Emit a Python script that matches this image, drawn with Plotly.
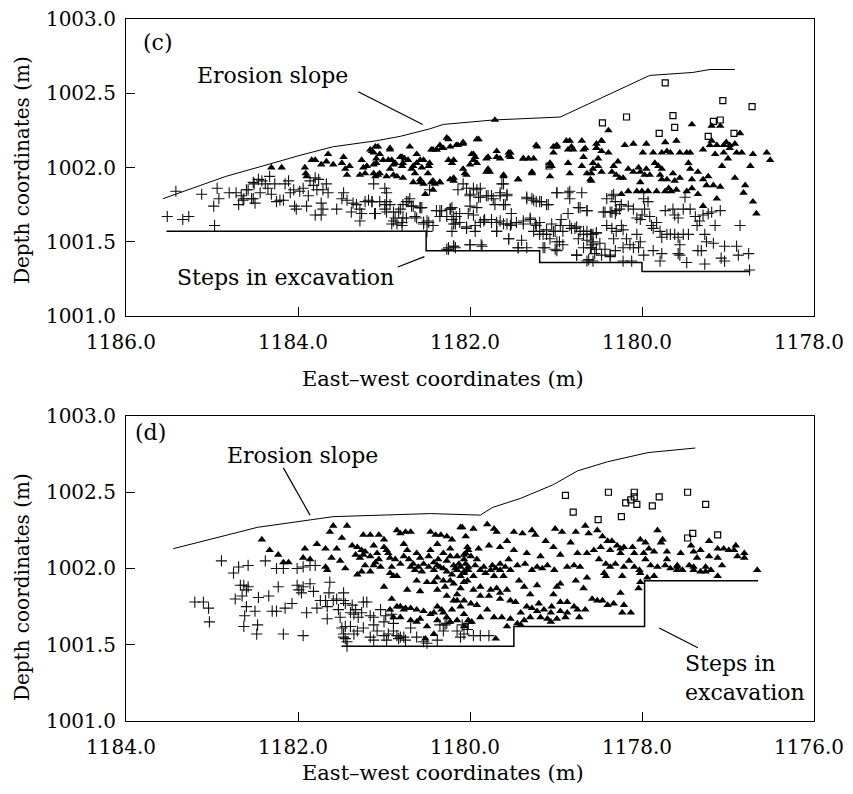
import plotly.graph_objects as go

# ---------------- Panel (c) data ----------------
c_slope_x = [1185.57, 1184.84, 1184.29, 1183.99, 1183.59, 1183.09, 1182.81, 1182.47, 1182.31, 1181.73, 1180.95, 1179.91, 1179.41, 1179.21, 1178.92]
c_slope_y = [1001.79, 1001.94, 1002.03, 1002.08, 1002.14, 1002.18, 1002.21, 1002.26, 1002.29, 1002.32, 1002.34, 1002.62, 1002.64, 1002.66, 1002.66]
c_step_x = [1185.53, 1182.51, 1181.19, 1180.00, 1178.74]
c_step_y = [1001.57, 1001.44, 1001.36, 1001.30, 1001.30]

c_cross = [
    (1185.42,1001.84),(1185.52,1001.67),(1185.34,1001.65),(1185.27,1001.67),(1185.12,1001.82),(1184.94,1001.86),
    (1184.92,1001.79),(1184.98,1001.74),(1184.97,1001.61),(1184.80,1001.83),(1184.72,1001.83),(1184.66,1001.81),
    (1184.69,1001.75),(1184.63,1001.79),(1184.58,1001.85),(1184.52,1001.79),(1184.51,1001.89),
    (1184.64,1001.78),(1184.60,1001.85),(1184.54,1001.79),(1184.52,1001.90),(1184.50,1001.76),(1184.46,1001.92),
    (1184.44,1001.83),(1184.42,1001.91),(1184.38,1001.89),(1184.35,1001.86),(1184.33,1001.94),(1184.31,1001.82),
    (1184.27,1001.89),(1184.25,1001.77),(1184.21,1001.78),(1184.17,1001.78),(1184.15,1001.89),(1184.11,1001.91),
    (1184.09,1001.83),(1184.05,1001.85),(1184.04,1001.74),(1184.02,1001.72),(1183.98,1001.84),(1183.94,1001.86),
    (1183.90,1001.74),(1183.88,1001.81),(1183.86,1001.91),(1183.82,1001.88),(1183.80,1001.93),(1183.78,1001.85),
    (1183.76,1001.92),(1183.73,1001.76),(1183.71,1001.85),(1183.80,1001.68),(1183.73,1001.68),(1183.67,1001.89),
    (1183.65,1001.83),(1183.71,1001.72),(1183.55,1001.72),(1183.47,1001.83),(1183.43,1001.78),(1183.49,1001.79),
    (1183.38,1001.70),(1183.36,1001.76),(1183.32,1001.75),(1183.28,1001.72),(1183.28,1001.64),(1183.26,1001.69),
    (1183.22,1001.77),(1183.18,1001.78),(1183.14,1001.77),(1183.10,1001.69),(1183.05,1001.77),(1182.99,1001.75),
    (1182.97,1001.70),(1182.97,1001.83),(1182.93,1001.75),(1182.89,1001.70),(1182.87,1001.66),(1182.83,1001.70),
    (1182.78,1001.75),(1182.72,1001.77),(1182.79,1001.63),(1182.91,1001.62),(1182.74,1001.66),(1182.66,1001.74),
    (1182.64,1001.67),(1182.58,1001.73),(1182.54,1001.63),(1182.50,1001.64),(1182.47,1001.85),(1182.35,1001.71),
    (1182.27,1001.67),(1182.23,1001.72),(1182.19,1001.62),(1182.16,1001.67),(1182.43,1001.61),(1182.27,1001.45),
    (1182.19,1001.47),(1183.12,1001.89),(1183.14,1001.77),(1183.11,1001.69),(1182.99,1001.86),(1182.97,1001.77),
    (1182.99,1001.72),(1182.89,1001.64),(1182.85,1001.62),(1182.79,1001.61),(1182.78,1001.66),(1182.81,1001.72),
    (1182.74,1001.77),(1182.70,1001.79),(1182.68,1001.74),(1182.58,1001.73),(1182.62,1001.66),(1182.54,1001.62),
    (1182.39,1001.71),(1182.35,1001.67),(1182.23,1001.72),(1182.21,1001.65),(1182.17,1001.62),(1182.12,1001.69),
    (1182.14,1001.85),(1182.04,1001.59),(1182.02,1001.69),(1182.00,1001.82),(1182.04,1001.86),(1181.92,1001.85),
    (1181.88,1001.80),(1181.92,1001.73),(1181.94,1001.61),(1181.79,1001.81),(1181.73,1001.79),(1181.65,1001.83),
    (1181.61,1001.89),(1181.57,1001.81),(1181.59,1001.75),(1181.83,1001.65),(1181.75,1001.65),(1181.69,1001.57),
    (1181.61,1001.62),(1181.55,1001.52),(1181.53,1001.61),(1181.44,1001.46),(1181.34,1001.79),(1181.26,1001.78),
    (1181.19,1001.77),(1181.11,1001.75),(1181.38,1001.62),(1181.30,1001.65),(1181.23,1001.61),(1181.19,1001.57),
    (1181.15,1001.55),(1181.11,1001.58),(1181.07,1001.52),(1181.05,1001.62),(1181.01,1001.57),(1180.99,1001.83),
    (1180.94,1001.65),(1180.96,1001.50),(1180.92,1001.57),(1181.15,1001.46),(1180.99,1001.44),(1182.25,1001.46),
    (1182.19,1001.47),(1182.00,1001.48),(1181.87,1001.48),(1180.84,1001.84),(1180.84,1001.79),(1180.82,1001.59),
    (1180.76,1001.60),(1180.68,1001.57),(1180.60,1001.55),(1180.53,1001.56),(1180.74,1001.52),(1180.64,1001.51),
    (1180.57,1001.48),(1180.72,1001.73),(1180.64,1001.71),(1180.76,1001.41),(1180.62,1001.38),
    (1180.41,1001.79),(1180.35,1001.81),(1180.31,1001.77),(1180.45,1001.70),(1180.37,1001.70),(1180.31,1001.69),
    (1180.26,1001.72),(1180.41,1001.61),(1180.35,1001.59),(1180.30,1001.57),(1180.24,1001.61),(1180.33,1001.52),
    (1180.57,1001.55),(1180.53,1001.56),(1180.49,1001.49),(1180.59,1001.46),(1180.55,1001.42),(1180.43,1001.45),
    (1180.37,1001.41),(1180.31,1001.44),(1180.22,1001.58),(1180.18,1001.52),(1180.22,1001.46),(1180.14,1001.48),
    (1180.10,1001.46),(1180.16,1001.74),(1180.10,1001.72),(1180.06,1001.66),(1180.02,1001.65),(1180.00,1001.68),
    (1179.97,1001.72),(1179.98,1001.79),(1179.93,1001.77),(1179.91,1001.67),(1179.89,1001.61),(1179.87,1001.59),
    (1180.06,1001.55),(1180.02,1001.50),(1180.04,1001.46),(1179.98,1001.41),(1180.22,1001.37),(1180.12,1001.37),
    (1179.83,1001.63),(1179.79,1001.57),(1179.77,1001.53),(1179.71,1001.55),(1179.67,1001.55),(1179.87,1001.44),
    (1179.77,1001.42),(1179.79,1001.37),(1179.73,1001.71),(1179.64,1001.72),(1179.62,1001.68),(1179.58,1001.66),
    (1179.52,1001.72),(1179.44,1001.72),(1179.50,1001.80),(1179.62,1001.55),(1179.58,1001.53),(1179.52,1001.55),
    (1179.46,1001.55),(1179.56,1001.48),(1179.58,1001.42),(1179.56,1001.41),(1179.48,1001.36),(1179.38,1001.67),
    (1179.36,1001.61),(1179.33,1001.64),(1179.29,1001.68),(1179.23,1001.69),(1179.27,1001.55),(1179.25,1001.50),
    (1179.31,1001.44),(1179.27,1001.35),(1179.35,1001.44),(1179.19,1001.70),(1179.15,1001.61),(1179.09,1001.71),
    (1179.17,1001.49),(1179.04,1001.47),(1179.08,1001.39),(1178.90,1001.47),(1178.88,1001.41),(1178.76,1001.42),
    (1179.04,1001.37),(1178.86,1001.61),(1178.75,1001.31),
    (1182.56,1001.73),(1182.54,1001.63),(1182.48,1001.63),(1182.50,1001.57),(1182.33,1001.71),(1182.21,1001.73),
    (1182.19,1001.67),(1182.12,1001.63),(1182.21,1001.57),(1181.96,1001.68),(1182.00,1001.74),(1181.88,1001.86),
    (1181.96,1001.86),(1181.63,1001.89),(1182.08,1001.89),(1182.00,1001.81),(1181.90,1001.80),(1181.81,1001.81),
    (1181.75,1001.81),(1181.65,1001.81),(1181.57,1001.82),(1181.71,1001.75),(1181.61,1001.75),(1181.88,1001.63),
    (1181.84,1001.64),(1181.75,1001.63),(1181.69,1001.63),(1181.65,1001.64),(1181.57,1001.62),(1181.52,1001.69),
    (1181.52,1001.62),(1182.04,1001.60),(1181.94,1001.57),(1181.69,1001.57),(1181.55,1001.52),(1181.40,1001.51),
    (1181.44,1001.46),(1181.34,1001.46),(1182.00,1001.48),(1181.86,1001.47),(1182.25,1001.45),(1182.17,1001.46),
    (1181.46,1001.63),(1181.38,1001.64),(1181.30,1001.66),(1181.24,1001.62),(1181.19,1001.63),(1181.34,1001.80),
    (1181.28,1001.79),(1181.23,1001.77),(1181.17,1001.77),(1181.09,1001.75),(1180.99,1001.83),(1180.86,1001.83),
    (1180.70,1001.83),(1180.86,1001.69),(1180.74,1001.73),(1180.64,1001.71),(1181.26,1001.57),(1181.19,1001.55),
    (1181.11,1001.55),(1181.03,1001.57),(1180.99,1001.50),(1180.95,1001.61),(1180.92,1001.48),(1180.76,1001.41),
    (1181.13,1001.46),(1181.01,1001.45),(1180.84,1001.61),(1180.78,1001.59),(1180.72,1001.57),(1180.68,1001.55),
    (1180.64,1001.57),(1180.59,1001.55),(1180.57,1001.50),(1180.68,1001.46),(1180.60,1001.46),(1180.53,1001.45),
    (1180.64,1001.37),(1180.57,1001.37),(1180.47,1001.41),(1180.37,1001.40),(1180.43,1001.70),(1180.35,1001.70),
    (1180.30,1001.71),(1180.24,1001.75),(1180.33,1001.82),
]

c_tri = [
    (1184.31,1002.00),(1184.19,1002.00),(1183.92,1002.00),(1183.91,1001.96),(1183.90,1001.94),(1183.84,1002.05),
    (1183.80,1002.05),(1183.73,1002.02),(1183.65,1002.09),(1183.67,1002.04),(1183.59,1002.02),(1183.49,1002.03),
    (1183.47,1002.07),(1183.45,1001.99),(1183.43,1001.95),(1183.40,1002.01),(1183.26,1002.05),(1183.24,1002.00),
    (1183.22,1001.96),(1183.28,1001.95),(1183.20,1002.01),(1183.16,1002.12),(1183.12,1002.10),(1183.07,1002.14),
    (1183.05,1002.09),(1183.09,1002.03),(1183.12,1001.96),(1183.10,1001.94),(1183.05,1001.96),(1182.93,1002.12),
    (1182.91,1002.05),(1182.89,1002.02),(1182.81,1002.07),(1182.76,1002.06),(1182.79,1002.01),(1182.78,1001.93),
    (1182.85,1001.94),(1182.97,1001.94),(1182.70,1002.14),(1182.62,1002.09),(1182.58,1002.05),(1182.56,1002.00),
    (1182.66,1002.01),(1182.66,1001.90),(1182.58,1001.90),(1182.47,1002.03),(1182.49,1001.96),(1182.43,1002.12),
    (1182.39,1002.12),(1182.27,1002.20),(1182.23,1002.14),(1182.33,1002.13),(1182.25,1002.05),(1182.21,1002.03),
    (1182.35,1001.90),(1182.43,1001.91),(1182.19,1001.93),(1182.14,1002.15),
    (1183.14,1002.11),(1183.10,1002.14),(1183.09,1002.06),(1183.12,1002.02),(1183.07,1001.95),(1183.01,1002.05),
    (1182.93,1002.13),(1182.95,1002.05),(1182.93,1001.99),(1182.89,1001.95),(1182.87,1002.03),(1182.79,1002.07),
    (1182.78,1002.03),(1182.72,1002.05),(1182.68,1001.99),(1182.62,1002.03),(1182.64,1001.96),(1182.54,1002.05),
    (1182.58,1001.92),(1182.54,1001.89),(1182.48,1002.01),(1182.45,1001.90),(1182.41,1001.89),(1182.45,1002.12),
    (1182.35,1002.15),(1182.08,1002.17),(1182.23,1001.92),(1182.19,1001.91),(1181.98,1002.09),(1181.94,1002.07),
    (1181.92,1002.19),(1181.92,1002.03),(1182.00,1002.02),(1182.06,1001.96),(1182.04,1001.95),(1181.81,1001.97),
    (1181.77,1001.97),(1181.79,1002.07),(1181.69,1002.11),(1181.65,1002.06),(1181.55,1002.10),(1181.53,1002.07),
    (1181.61,1001.95),(1181.44,1001.92),(1181.38,1002.06),(1181.32,1002.06),(1181.26,1002.06),(1181.28,1001.96),
    (1181.23,1002.15),(1181.05,1002.01),(1181.07,1002.03),(1181.03,1002.10),(1181.01,1002.14),(1180.99,1002.15),
    (1180.84,1002.18),(1180.82,1002.14),(1180.86,1002.03),(1180.84,1001.96),(1180.68,1002.07),(1180.70,1002.01),
    (1180.66,1002.13),(1180.64,1001.96),(1180.60,1001.92),(1180.57,1001.99),(1180.53,1002.16),(1180.51,1002.06),
    (1180.39,1002.25),(1180.47,1002.18),(1180.53,1002.13),(1180.47,1002.11),(1180.39,1002.10),(1180.57,1002.03),
    (1180.51,1002.01),(1180.59,1001.96),(1180.47,1001.97),(1180.33,1002.01),(1180.28,1002.04),(1180.35,1001.97),
    (1180.30,1001.95),(1180.26,1001.93),(1180.22,1001.93),(1180.59,1001.91),(1180.20,1002.15),(1180.10,1002.16),
    (1179.95,1002.16),(1179.99,1002.10),(1179.87,1002.10),(1179.77,1002.10),(1179.71,1002.11),(1179.73,1002.17),
    (1179.60,1002.18),(1179.67,1002.10),(1179.56,1002.10),(1179.48,1002.10),(1179.44,1002.10),(1180.16,1001.99),
    (1180.10,1001.97),(1180.04,1002.00),(1180.02,1001.97),(1179.95,1001.99),(1179.85,1002.03),(1179.81,1002.01),
    (1179.77,1001.99),(1179.91,1001.95),(1179.97,1001.95),(1179.79,1001.95),(1179.77,1001.92),(1179.71,1001.92),
    (1179.64,1001.96),(1179.62,1001.91),(1179.56,1001.93),(1179.46,1002.03),(1179.44,1001.99),(1179.42,1001.92),
    (1179.35,1001.97),(1179.29,1001.92),(1179.23,1001.94),(1179.25,1001.88),(1179.17,1001.88),(1179.09,1001.87),
    (1180.02,1001.90),(1180.00,1001.84),(1180.06,1001.84),(1180.16,1001.84),(1180.24,1001.82),(1179.93,1001.84),
    (1179.83,1001.84),(1179.73,1001.84),(1179.69,1001.86),(1179.66,1001.84),(1179.60,1001.85),(1179.48,1001.84),
    (1179.42,1001.86),(1179.35,1001.82),(1179.13,1001.79),(1179.29,1001.74),(1179.42,1002.29),(1179.19,1002.28),
    (1179.09,1002.28),(1179.13,1002.15),(1179.15,1002.09),(1179.05,1002.15),(1179.02,1002.17),(1178.98,1002.15),
    (1178.92,1002.16),(1178.90,1002.10),(1178.84,1002.10),(1178.98,1002.13),(1179.05,1002.10),(1179.00,1002.06),
    (1179.07,1002.01),(1178.92,1001.93),(1178.80,1001.88),(1178.82,1001.83),(1178.71,1001.77),(1178.67,1001.69),
    (1178.71,1002.09),(1178.55,1002.10),(1178.51,1002.05),(1178.74,1002.01),(1178.86,1002.23),(1179.21,1002.15),
    (1179.29,1002.12),(1179.19,1002.18),(1181.71,1002.32),(1182.25,1002.19),(1181.90,1002.19),(1182.39,1002.12),
    (1182.31,1002.13),(1182.16,1002.15),(1182.08,1002.16),(1181.96,1002.09),(1181.96,1002.05),(1181.81,1002.06),
    (1181.69,1002.07),(1181.55,1002.08),(1181.53,1002.10),(1181.38,1002.06),(1181.22,1002.14),(1181.03,1002.14),
    (1180.99,1002.14),(1181.28,1001.97),(1181.07,1001.94),(1181.07,1002.01),(1180.88,1002.18),(1180.86,1002.12),
    (1180.80,1002.12),(1180.70,1002.18),(1180.68,1002.12),(1180.47,1002.18),(1180.53,1002.13),(1182.19,1002.05),
    (1182.08,1001.99),(1181.79,1001.99),(1181.61,1001.94),(1181.44,1001.92),(1182.35,1001.90),(1182.43,1001.85),
    (1182.52,1001.82),
]

c_sq = [
    (1179.73,1002.57),(1179.06,1002.45),(1178.72,1002.41),(1180.18,1002.34),(1180.46,1002.30),(1179.64,1002.35),
    (1179.62,1002.27),(1179.80,1002.23),(1179.23,1002.21),(1179.17,1002.31),(1179.09,1002.32),(1178.93,1002.23),
    (1181.08,1002.01),
]

# ---------------- Panel (d) data ----------------
d_slope_x = [1183.45, 1182.47, 1181.59, 1180.46, 1179.88, 1179.74, 1179.41, 1179.03, 1178.75, 1178.40, 1177.93, 1177.38]
d_slope_y = [1002.13, 1002.27, 1002.34, 1002.36, 1002.35, 1002.40, 1002.46, 1002.55, 1002.64, 1002.70, 1002.76, 1002.79]
d_step_x = [1181.49, 1179.49, 1177.97, 1176.65]
d_step_y = [1001.49, 1001.62, 1001.92, 1001.92]

d_cross = [
    (1183.20,1001.78),(1183.10,1001.78),(1183.04,1001.74),(1183.03,1001.65),(1182.89,1002.05),(1182.75,1001.97),
    (1182.69,1002.01),(1182.58,1002.02),(1182.38,1002.05),(1182.67,1001.89),(1182.63,1001.89),(1182.58,1001.88),
    (1182.60,1001.86),(1182.73,1001.80),(1182.65,1001.82),(1182.46,1001.81),(1182.34,1001.82),(1182.60,1001.75),
    (1182.62,1001.69),(1182.50,1001.72),(1182.63,1001.62),(1182.47,1001.63),(1182.48,1001.57),(1182.17,1001.57),
    (1181.94,1001.56),(1182.30,1001.72),(1182.25,1001.72),(1182.15,1001.74),(1182.07,1001.77),(1182.23,1001.88),
    (1182.25,1002.00),(1182.17,1002.00),(1182.01,1001.89),(1181.99,1001.86),(1181.94,1001.88),(1181.96,1001.84),
    (1182.01,1002.00),(1181.94,1002.01),(1181.86,1002.02),(1181.80,1002.02),(1181.86,1001.90),(1181.82,1001.85),
    (1181.90,1001.71),(1181.78,1001.74),(1181.74,1001.79),(1181.68,1001.79),(1181.66,1001.75),(1181.64,1001.84),
    (1181.63,1001.91),(1181.66,1001.67),(1181.59,1001.79),(1181.55,1001.80),(1181.53,1001.73),(1181.51,1001.68),
    (1181.47,1001.84),(1181.47,1001.79),(1181.45,1001.77),(1181.39,1001.71),(1181.35,1001.70),(1181.33,1001.73),
    (1181.37,1001.76),(1181.30,1001.68),(1181.26,1001.71),(1181.24,1001.78),(1181.20,1001.78),(1181.16,1001.69),
    (1181.12,1001.68),(1181.12,1001.63),(1181.04,1001.73),(1181.00,1001.65),(1180.98,1001.69),(1180.91,1001.70),
    (1180.89,1001.64),(1181.49,1001.61),(1181.45,1001.62),(1181.47,1001.57),(1181.45,1001.54),(1181.43,1001.52),
    (1181.35,1001.57),(1181.16,1001.55),(1181.12,1001.53),(1181.00,1001.56),(1180.95,1001.57),(1180.89,1001.59),
    (1180.85,1001.56),(1180.81,1001.55),(1180.77,1001.55),(1180.69,1001.61),(1180.75,1001.53),(1180.50,1001.51),
    (1180.38,1001.53),(1180.35,1001.63),(1180.29,1001.63),(1180.27,1001.64),(1180.15,1001.59),(1180.11,1001.55),
    (1180.09,1001.63),(1180.02,1001.64),(1179.96,1001.56),(1179.88,1001.56),(1179.78,1001.56),(1180.07,1001.57),
    (1181.39,1001.62),(1181.31,1001.59),(1181.24,1001.61),(1181.08,1001.59),(1180.97,1001.53),(1180.83,1001.54),
    (1180.62,1001.55),(1180.54,1001.52),(1180.31,1001.59),(1180.03,1001.60),(1181.47,1001.55),(1181.43,1001.49),
]

d_tri = [
    (1182.42,1002.19),(1182.33,1002.12),(1182.23,1002.09),(1182.17,1002.04),(1182.11,1002.04),(1181.92,1002.13),
    (1181.94,1002.07),(1181.86,1002.06),(1181.78,1002.16),(1181.68,1002.13),(1181.59,1002.28),(1181.43,1002.28),
    (1181.63,1002.24),(1181.61,1002.07),(1181.55,1002.13),(1181.49,1002.20),(1181.51,1002.05),(1181.45,1002.00),
    (1181.68,1002.01),(1181.66,1001.99),(1181.37,1002.15),(1181.31,1002.14),(1181.26,1002.12),(1181.24,1002.09),
    (1181.24,1002.22),(1181.16,1002.22),(1181.12,1002.15),(1181.08,1002.10),(1181.06,1002.22),(1181.00,1002.19),
    (1181.10,1002.04),(1181.22,1002.02),(1181.26,1001.98),(1181.16,1001.98),(1181.04,1002.01),(1181.31,1001.96),
    (1180.97,1002.12),(1180.93,1002.07),(1180.91,1002.01),(1180.85,1002.25),(1180.81,1002.23),(1180.75,1002.24),
    (1180.69,1002.24),(1180.77,1002.16),(1180.73,1002.12),(1180.71,1002.06),(1180.66,1002.03),(1180.62,1002.10),
    (1180.58,1002.07),(1180.60,1002.01),(1180.56,1001.98),(1180.93,1001.97),(1180.85,1001.95),(1181.00,1001.88),
    (1180.89,1001.95),(1180.46,1002.24),(1180.40,1002.22),(1180.38,1002.16),(1180.34,1002.22),(1180.27,1002.21),
    (1180.21,1002.19),(1180.11,1002.27),(1180.05,1002.21),(1180.02,1002.12),(1180.46,1002.12),(1180.48,1002.01),
    (1180.42,1001.99),(1180.38,1002.02),(1180.31,1002.00),(1180.27,1002.05),(1180.23,1002.08),(1180.19,1002.02),
    (1180.15,1001.99),(1180.11,1002.01),(1180.07,1002.06),(1180.03,1001.99),(1180.11,1001.95),(1180.07,1001.91),
    (1180.23,1001.92),(1180.31,1001.92),(1180.29,1001.88),(1180.38,1001.86),(1180.42,1001.91),(1180.27,1001.82),
    (1180.19,1001.79),(1180.15,1001.83),(1180.11,1001.75),(1180.91,1001.80),(1180.81,1001.75),(1180.75,1001.74),
    (1180.69,1001.74),(1180.62,1001.73),(1180.73,1001.86),(1180.58,1001.85),(1180.38,1001.75),(1180.33,1001.73),
    (1180.93,1001.73),(1180.89,1001.68),(1180.81,1001.68),(1180.58,1001.67),(1180.42,1001.71),(1180.38,1001.66),
    (1180.27,1001.68),(1180.21,1001.73),(1180.15,1001.66),(1180.07,1001.70),(1180.69,1001.66),(1180.62,1001.65),
    (1180.52,1001.54),(1180.42,1001.57),(1180.50,1001.62),
    (1181.33,1002.09),(1181.28,1002.07),(1181.22,1002.11),(1181.16,1002.08),(1181.12,1002.02),(1181.06,1002.06),
    (1181.00,1002.14),(1180.95,1002.10),(1180.87,1002.06),(1180.81,1002.03),(1180.77,1002.08),(1180.69,1002.01),
    (1180.64,1001.99),(1180.54,1002.03),(1180.48,1002.08),(1180.42,1002.04),(1180.37,1002.06),(1180.35,1002.01),
    (1180.27,1001.98),(1180.21,1001.96),(1180.17,1002.00),(1180.13,1002.03),(1180.07,1001.98),(1180.02,1002.01),
    (1180.31,1002.10),(1180.23,1002.13),(1180.15,1002.08),(1180.05,1002.10),(1180.19,1001.90),(1180.11,1001.87),
    (1180.03,1001.92),(1180.38,1001.94),(1180.50,1001.91),(1180.62,1001.92),(1180.85,1001.75),(1180.77,1001.73),
    (1180.54,1001.72),(1180.46,1001.70),(1180.31,1001.71),(1180.23,1001.65),(1180.07,1001.62),(1180.02,1001.66),
    (1180.15,1001.79),(1180.07,1001.79),
    (1180.09,1002.27),(1179.96,1002.26),(1179.80,1002.29),(1179.72,1002.26),(1179.69,1002.24),(1179.49,1002.24),
    (1179.39,1002.23),(1179.28,1002.25),(1179.24,1002.22),(1179.01,1002.26),(1178.93,1002.24),(1178.77,1002.24),
    (1178.66,1002.28),(1178.62,1002.23),(1178.52,1002.25),(1178.46,1002.21),(1178.40,1002.18),(1178.35,1002.18),
    (1178.29,1002.15),(1178.25,1002.13),(1178.21,1002.14),(1178.11,1002.14),(1178.02,1002.19),(1177.96,1002.17),
    (1177.92,1002.13),(1177.82,1002.25),(1177.78,1002.17),(1177.76,1002.19),(1177.71,1002.11),(1177.55,1002.10),
    (1177.43,1002.15),(1177.40,1002.11),(1177.32,1002.12),(1177.22,1002.18),(1177.12,1002.13),(1177.05,1002.13),
    (1176.99,1002.12),(1176.91,1002.15),(1176.93,1002.12),(1176.81,1002.10),(1176.81,1002.07),(1176.89,1002.08),
    (1176.66,1001.99),(1177.12,1001.95),(1177.36,1002.07),(1177.22,1002.08),(1177.12,1002.07),(1177.07,1002.02),
    (1180.07,1002.09),(1179.99,1002.08),(1179.92,1002.06),(1179.84,1002.01),(1179.74,1002.02),(1179.65,1002.03),
    (1179.55,1002.06),(1179.45,1002.02),(1179.36,1002.03),(1179.28,1001.99),(1179.22,1002.01),(1179.16,1002.00),
    (1179.10,1002.02),(1179.02,1001.99),(1178.95,1002.09),(1178.87,1002.01),(1178.79,1002.02),(1178.72,1002.01),
    (1178.50,1002.06),(1178.42,1002.03),(1178.37,1002.01),(1178.31,1002.03),(1178.21,1002.01),(1178.15,1002.05),
    (1178.09,1002.01),(1178.03,1001.99),(1177.96,1002.06),(1177.90,1002.02),(1177.82,1002.01),(1177.73,1002.02),
    (1177.67,1002.00),(1177.59,1002.01),(1177.53,1001.99),(1177.45,1002.02),(1177.40,1001.99),(1177.32,1001.98),
    (1177.26,1001.98),(1178.44,1001.97),(1178.42,1001.95),(1178.23,1001.95),(1178.02,1001.97),(1177.94,1001.94),
    (1177.86,1001.95),(1180.07,1001.91),(1179.96,1001.86),(1179.88,1001.82),(1179.78,1001.82),(1179.69,1001.87),
    (1179.65,1001.80),(1179.57,1001.86),(1179.53,1001.79),(1179.43,1001.92),(1179.37,1001.88),(1179.30,1001.83),
    (1179.22,1001.89),(1179.20,1001.77),(1179.14,1001.73),(1179.06,1001.71),(1179.03,1001.83),(1178.99,1001.88),
    (1178.95,1001.90),(1178.87,1001.78),(1178.79,1001.75),(1178.77,1001.92),(1178.68,1001.87),(1178.64,1001.94),
    (1178.58,1001.80),(1178.52,1001.79),(1178.46,1001.79),(1178.40,1001.76),(1178.33,1001.77),(1178.25,1001.84),
    (1178.21,1001.76),(1178.23,1001.71),(1178.13,1001.71),(1178.02,1001.91),(1178.04,1001.87),(1179.99,1001.77),
    (1179.92,1001.76),(1179.80,1001.73),(1179.72,1001.68),(1179.63,1001.68),(1179.53,1001.67),(1179.45,1001.64),
    (1179.37,1001.66),(1179.28,1001.74),(1179.22,1001.72),(1179.18,1001.68),(1179.10,1001.67),(1178.99,1001.67),
    (1178.89,1001.68),(1178.75,1001.73),(1178.66,1001.73),(1178.95,1001.72),(1179.70,1001.54),
    (1180.05,1002.03),(1180.02,1001.99),(1179.94,1002.02),(1179.88,1001.99),(1179.82,1001.97),(1179.76,1001.99),
    (1179.70,1002.00),(1179.65,1001.99),(1179.59,1002.01),(1179.53,1001.99),(1180.07,1001.97),(1179.96,1001.95),
    (1179.72,1001.95),(1179.61,1001.95),(1180.03,1002.14),(1179.90,1002.13),(1179.78,1002.15),(1179.65,1002.14),
    (1179.57,1002.18),(1179.49,1002.12),(1179.34,1002.10),(1179.18,1002.08),(1179.12,1002.18),(1179.03,1002.14),
    (1178.83,1002.17),(1178.75,1002.10),(1178.64,1002.10),(1178.56,1002.12),(1178.48,1002.14),(1178.37,1002.12),
    (1178.25,1002.10),(1178.09,1002.10),(1177.98,1002.10),(1177.86,1002.11),(1177.71,1002.06),(1177.59,1002.02),
    (1177.40,1002.01),(1177.26,1002.01),(1177.20,1001.99),(1177.59,1001.99),(1179.88,1001.88),(1179.76,1001.86),
    (1179.65,1001.84),(1179.47,1001.78),(1179.34,1001.75),(1179.41,1001.71),(1179.30,1001.68),(1179.05,1001.75),
    (1178.95,1001.78),(1178.87,1001.71),(1178.73,1001.68),(1179.06,1001.65),(1179.41,1001.63),(1179.57,1001.62),
    (1179.88,1001.68),(1179.98,1001.65),
]

d_sq = [
    (1178.89,1002.48),(1178.39,1002.50),(1178.09,1002.50),(1178.09,1002.47),(1178.13,1002.45),(1178.19,1002.43),
    (1178.06,1002.42),(1177.88,1002.41),(1177.80,1002.47),(1177.47,1002.50),(1177.26,1002.42),(1178.80,1002.37),
    (1178.51,1002.32),(1178.24,1002.34),(1177.47,1002.20),(1177.41,1002.23),(1177.12,1002.22),
]

x_title = "East\u2013west coordinates (m)"
y_title = "Depth coordinates (m)"

FONT = "DejaVu Serif"
fig = go.Figure()


def xs(pts):
    return [p[0] for p in pts]


def ys(pts):
    return [p[1] for p in pts]


def add_panel(cross, tri, sq, slope_x, slope_y, step_x, step_y, xa, ya):
    fig.add_trace(go.Scatter(x=slope_x, y=slope_y, mode="lines", line=dict(color="black", width=1),
                             xaxis=xa, yaxis=ya, showlegend=False, hoverinfo="skip"))
    fig.add_trace(go.Scatter(x=step_x, y=step_y, mode="lines", line=dict(color="black", width=1.5, shape="hv"),
                             xaxis=xa, yaxis=ya, showlegend=False, hoverinfo="skip"))
    fig.add_trace(go.Scatter(x=xs(cross), y=ys(cross), mode="markers",
                             marker=dict(symbol="cross-thin", size=8, line=dict(color="#111", width=1.1)),
                             xaxis=xa, yaxis=ya, showlegend=False))
    fig.add_trace(go.Scatter(x=xs(tri), y=ys(tri), mode="markers",
                             marker=dict(symbol="triangle-up", size=7.5, color="black"),
                             xaxis=xa, yaxis=ya, showlegend=False))
    fig.add_trace(go.Scatter(x=xs(sq), y=ys(sq), mode="markers",
                             marker=dict(symbol="square-open", size=6, color="black", line=dict(width=1.2)),
                             xaxis=xa, yaxis=ya, showlegend=False))


add_panel(c_cross, c_tri, c_sq, c_slope_x, c_slope_y, c_step_x, c_step_y, "x", "y")
add_panel(d_cross, d_tri, d_sq, d_slope_x, d_slope_y, d_step_x, d_step_y, "x2", "y2")

tick_font = dict(family=FONT, size=20, color="black")
common = dict(showline=True, linecolor="black", linewidth=1.2, mirror=True, ticks="inside", ticklen=9,
              tickcolor="black", showgrid=False, zeroline=False, automargin=False,
              ticklabeloverflow="allow", tickfont=tick_font, tickformat=".1f")
# x axes are reversed, so a positive shift moves the labels a few px to the left (keeps the last label on the page)
xcommon = dict(common, ticklabelstandoff=8, ticklabelshift=5)
ycommon = dict(common, ticklabelstandoff=5)

# The page body adds an 8px margin; the figure is sized so the plot areas land where the reference has them.
fig.update_layout(
    width=845, height=778,
    margin=dict(l=118, r=39, t=11, b=65),
    paper_bgcolor="white", plot_bgcolor="white",
    template="none",
    xaxis=dict(xcommon, domain=[0, 1], range=[1186, 1178], dtick=2, anchor="y"),
    yaxis=dict(ycommon, domain=[0.5769, 1], range=[1001, 1003], dtick=0.5, anchor="x"),
    xaxis2=dict(xcommon, domain=[0, 1], range=[1184, 1176], dtick=2, anchor="y2"),
    yaxis2=dict(ycommon, domain=[0, 0.4345], range=[1001, 1003], dtick=0.5, anchor="x2"),
)

ann_font = dict(family=FONT, size=22, color="black")
xtitle_font = dict(family=FONT, size=21, color="black")
ytitle_font = dict(family=FONT, size=20, color="black")
mid = dict(xanchor="center", yanchor="middle", showarrow=False)
annotations = [
    # axis titles
    dict(mid, x=0.4608, y=0.4872, xref="paper", yref="paper", text=x_title, font=xtitle_font),
    dict(mid, x=0.4608, y=-0.0740, xref="paper", yref="paper", text=x_title, font=xtitle_font),
    dict(mid, x=-0.151, y=0.7849, xref="paper", yref="paper", text=y_title, font=ytitle_font, textangle=-90),
    dict(mid, x=-0.151, y=0.1909, xref="paper", yref="paper", text=y_title, font=ytitle_font, textangle=-90),
    # panel labels and notes
    dict(mid, x=1185.63, y=1002.84, xref="x", yref="y", text="(c)", font=ann_font),
    dict(mid, x=1184.30, y=1002.62, xref="x", yref="y", text="Erosion slope", font=ann_font),
    dict(mid, x=1184.15, y=1001.26, xref="x", yref="y", text="Steps in excavation", font=ann_font),
    dict(mid, x=1183.72, y=1002.89, xref="x2", yref="y2", text="(d)", font=ann_font),
    dict(mid, x=1181.95, y=1002.74, xref="x2", yref="y2", text="Erosion slope", font=ann_font),
    dict(x=1177.52, y=1001.28, xref="x2", yref="y2", text="Steps in<br>excavation", showarrow=False,
         font=ann_font, xanchor="left", yanchor="middle", align="left"),
]
fig.update_layout(annotations=annotations)

shapes = [
    dict(type="line", xref="x", yref="y", x0=1183.30, y0=1002.51, x1=1182.55, y1=1002.29, line=dict(color="black", width=1.2)),
    dict(type="line", xref="x", yref="y", x0=1182.84, y0=1001.33, x1=1182.53, y1=1001.40, line=dict(color="black", width=1.2)),
    dict(type="line", xref="x2", yref="y2", x0=1182.17, y0=1002.66, x1=1181.86, y1=1002.35, line=dict(color="black", width=1.2)),
    dict(type="line", xref="x2", yref="y2", x0=1177.80, y0=1001.61, x1=1177.35, y1=1001.48, line=dict(color="black", width=1.2)),
]
fig.update_layout(shapes=shapes)

fig.write_html("out.html")
